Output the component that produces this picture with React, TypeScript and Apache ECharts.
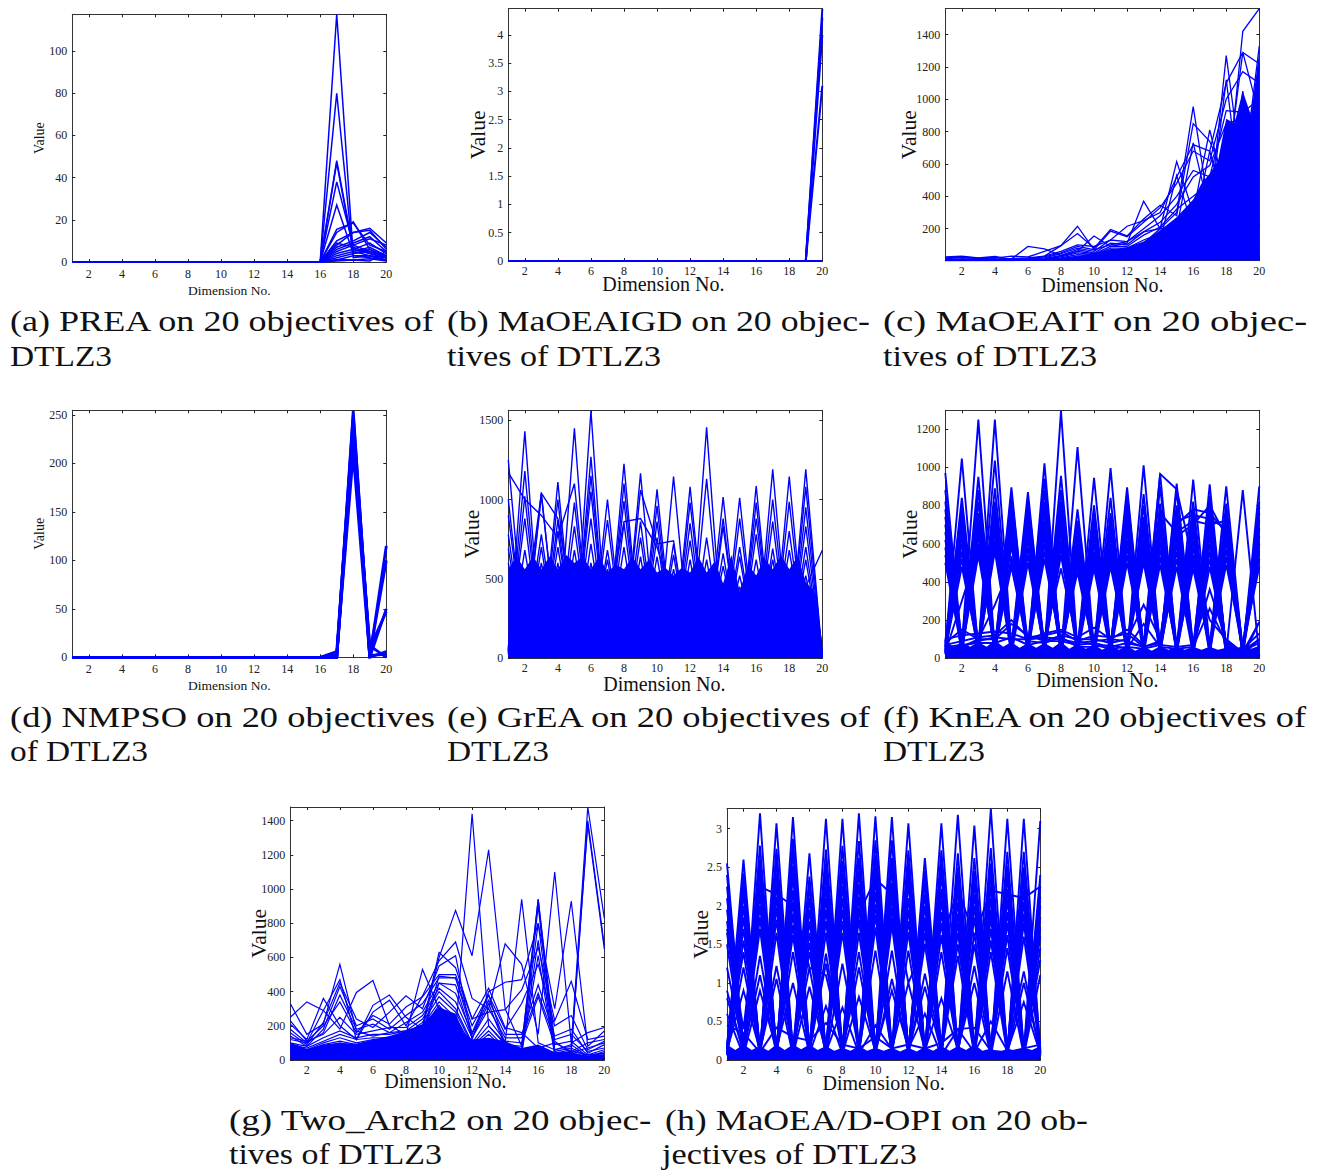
import React, { useEffect, useRef } from "react";
import * as echarts from "echarts";

const BLUE = "#0000ff";
const SERIF = '"Liberation Serif", serif';
const dimTicks = [2, 4, 6, 8, 10, 12, 14, 16, 18, 20];

// Panel a: values of dimensions 16..20 (dimensions 1..15 sit at zero)
const preaTail = [
  [0, 117.4, 3, 2, 1], [0, 80, 2, 3, 1], [0, 48, 6, 4, 2], [0, 47, 5, 3, 2], [0, 38, 8, 5, 3],
  [0, 27, 4, 6, 2], [0, 15.5, 18.5, 8, 5], [0, 14, 19, 6, 3], [0, 10, 14, 16, 9], [0, 8, 14, 15, 6],
  [0, 7, 10, 14, 7], [0, 6, 9, 12, 5], [0, 5, 8, 11, 8], [0, 4, 6, 9, 4], [0, 3, 5, 7, 3],
  [0, 2, 4, 5, 2], [0, 1, 3, 3, 1], [0, 1.2, 1, 1.5, 0.5], [0, 0.5, 1, 0.5, 5], [0, 9, 7, 4, 2],
];
// Panel b: values of dimension 19, 20
const igdTail = [[0, 4.46], [0, 4.3], [0, 4.0], [0, 3.1], [0, 0]];
// Panel d: values of dimensions 16..20
const nmpsoTail = [
  [0, 0, 254, 0, 115], [0, 0, 250, 3, 100], [0, 6, 240, 0, 50], [0, 0, 225, 10, 47],
  [0, 3, 210, 0, 6], [0, 0, 230, 12, 0], [0, 0, 245, 2, 3],
];

const itRows = [
  [25, 30, 20, 28, 10, 12, 30, 95, 215, 70, 100, 120, 180, 200, 615, 300, 810, 400, 1420, 1560],
  [20, 25, 18, 22, 12, 90, 75, 35, 60, 155, 90, 110, 370, 200, 300, 955, 300, 1270, 500, 1330],
  [15, 20, 15, 18, 30, 25, 60, 95, 170, 80, 195, 155, 260, 345, 280, 850, 740, 500, 1290, 900],
  [8, 12, 10, 12, 15, 20, 30, 60, 100, 90, 130, 215, 250, 300, 520, 720, 680, 1100, 1290, 1220],
  [6, 8, 8, 10, 10, 15, 25, 50, 90, 70, 185, 150, 240, 330, 480, 680, 620, 1000, 1170, 1100],
  [5, 7, 6, 8, 8, 12, 20, 45, 80, 60, 130, 120, 200, 280, 400, 560, 520, 930, 920, 1000],
  [4, 5, 5, 6, 6, 10, 15, 35, 70, 50, 110, 100, 180, 240, 350, 520, 590, 850, 880, 950],
  [3, 4, 4, 5, 5, 8, 12, 30, 60, 45, 90, 90, 160, 210, 320, 400, 480, 700, 800, 900],
  [3, 3, 3, 4, 4, 6, 10, 25, 50, 40, 80, 80, 130, 170, 250, 360, 400, 600, 700, 20],
  [3, 3, 3, 3, 3, 5, 8, 20, 40, 35, 70, 70, 110, 200, 200, 730, 300, 1120, 300, 1220],
  [3, 3, 3, 3, 3, 4, 7, 15, 30, 30, 60, 60, 100, 130, 530, 200, 680, 300, 1050, 200],
];
const itMass = [[1, 8], [7, 12], [8, 18], [9, 30], [10, 50], [11, 70], [12, 85], [13, 120], [14, 190], [15, 270], [16, 380], [16.5, 480], [17, 540], [17.5, 620], [18, 880], [18.5, 850], [19, 1050], [19.5, 900], [20, 1300]];

const greaRows = [
  [1250, 80, 1040, 60, 1450, 40, 1000, 30, 1165, 20, 1145, 30, 1455, 40, 1010, 30, 1190, 20, 1190, 5],
  [1170, 1000, 900, 760, 1100, 50, 870, 30, 1060, 720, 740, 40, 1130, 30, 880, 40, 1000, 30, 1080, 10],
  [1000, 60, 1030, 70, 980, 40, 680, 60, 860, 60, 720, 30, 760, 60, 700, 50, 860, 20, 950, 5],
  [900, 90, 780, 60, 830, 60, 620, 40, 760, 50, 650, 40, 620, 30, 640, 30, 690, 40, 830, 0],
  [780, 30, 700, 40, 680, 70, 560, 60, 640, 30, 560, 50, 540, 70, 520, 60, 620, 50, 700, 20],
  [690, 60, 600, 50, 560, 30, 500, 30, 520, 40, 500, 30, 480, 30, 450, 30, 540, 40, 620, 10],
  [600, 40, 520, 30, 500, 40, 450, 60, 460, 60, 450, 60, 430, 40, 400, 50, 460, 60, 520, 5],
  [40, 1430, 30, 1110, 20, 1560, 50, 1225, 40, 1065, 30, 1080, 40, 1015, 30, 1085, 20, 1145, 30, 10],
  [50, 1180, 40, 1000, 30, 1270, 30, 1100, 50, 960, 20, 980, 60, 880, 40, 980, 30, 985, 40, 5],
  [30, 1020, 60, 870, 40, 1150, 60, 990, 30, 860, 40, 850, 30, 830, 50, 880, 60, 800, 30, 15],
  [70, 880, 30, 800, 50, 1050, 40, 850, 60, 760, 50, 740, 40, 660, 30, 780, 40, 680, 50, 0],
  [40, 680, 50, 700, 60, 880, 30, 700, 40, 640, 30, 620, 50, 580, 60, 620, 30, 560, 20, 20],
  [60, 560, 40, 600, 30, 720, 50, 560, 30, 520, 40, 520, 30, 470, 40, 520, 50, 460, 40, 5],
  [20, 480, 60, 500, 50, 600, 40, 470, 50, 450, 60, 440, 60, 430, 30, 450, 60, 420, 50, 30],
  [300, 250, 1040, 880, 280, 200, 300, 860, 880, 700, 350, 200, 300, 250, 300, 250, 300, 350, 450, 680],
];
const greaMass = [[1, 560], [1.5, 640], [2, 560], [2.5, 640], [3, 560], [3.5, 640], [4, 560], [4.5, 650], [5, 600], [5.5, 640], [6, 560], [6.5, 640], [7, 540], [7.5, 590], [8, 560], [8.5, 640], [9, 560], [9.5, 620], [10, 540], [10.5, 570], [11, 520], [11.5, 570], [12, 540], [12.5, 640], [13, 540], [13.5, 610], [14, 470], [14.5, 650], [15, 420], [15.5, 590], [16, 520], [16.5, 630], [17, 560], [17.5, 650], [18, 560], [18.5, 640], [19, 480], [19.5, 420], [20, 100]];

const kneaRows = [
  [970, 60, 1250, 40, 895, 30, 1020, 20, 1105, 40, 995, 30, 1010, 50, 915, 40, 910, 30, 880, 10],
  [880, 40, 950, 60, 860, 70, 940, 50, 780, 60, 840, 20, 860, 60, 880, 60, 850, 40, 30, 190],
  [820, 90, 880, 30, 820, 50, 880, 40, 720, 30, 760, 50, 800, 30, 800, 40, 800, 50, 50, 130],
  [780, 30, 820, 50, 780, 30, 820, 70, 680, 60, 720, 30, 740, 50, 760, 30, 760, 60, 20, 100],
  [740, 70, 760, 30, 740, 60, 770, 30, 640, 40, 680, 60, 700, 30, 720, 50, 720, 30, 40, 80],
  [700, 20, 720, 60, 700, 20, 720, 50, 600, 70, 640, 40, 660, 60, 680, 20, 680, 40, 30, 60],
  [660, 50, 680, 20, 660, 50, 680, 30, 570, 30, 600, 70, 620, 40, 640, 60, 640, 70, 10, 40],
  [620, 80, 640, 70, 620, 70, 640, 60, 540, 50, 570, 20, 590, 20, 600, 30, 600, 20, 60, 30],
  [580, 30, 600, 40, 590, 40, 600, 20, 510, 20, 540, 50, 560, 70, 560, 40, 560, 50, 20, 20],
  [540, 60, 570, 30, 530, 30, 560, 40, 480, 60, 510, 30, 530, 30, 520, 60, 520, 30, 50, 10],
  [500, 40, 540, 50, 480, 60, 520, 70, 450, 40, 480, 60, 500, 50, 480, 20, 480, 60, 30, 30],
  [60, 1045, 40, 1250, 60, 870, 30, 1295, 40, 945, 50, 895, 30, 965, 40, 935, 60, 900, 30, 900],
  [40, 840, 60, 1035, 30, 830, 60, 955, 60, 800, 30, 860, 50, 900, 60, 820, 30, 810, 20, 820],
  [90, 800, 30, 890, 50, 800, 40, 880, 30, 760, 60, 820, 30, 810, 30, 780, 50, 780, 50, 790],
  [30, 760, 50, 820, 30, 770, 50, 820, 50, 720, 40, 780, 60, 770, 50, 740, 40, 750, 30, 760],
  [70, 720, 30, 780, 60, 740, 30, 780, 20, 680, 70, 740, 20, 730, 30, 700, 60, 720, 60, 720],
  [20, 680, 70, 740, 20, 700, 70, 740, 60, 640, 30, 700, 40, 690, 60, 660, 30, 690, 10, 680],
  [50, 640, 20, 700, 40, 660, 20, 700, 30, 600, 50, 660, 70, 650, 20, 620, 50, 650, 40, 640],
  [80, 600, 60, 660, 70, 620, 60, 660, 70, 560, 20, 620, 30, 610, 40, 580, 70, 610, 20, 600],
  [30, 560, 40, 620, 30, 580, 40, 620, 40, 530, 60, 580, 50, 570, 70, 540, 20, 570, 50, 560],
  [60, 520, 30, 590, 50, 540, 30, 580, 20, 500, 40, 540, 20, 530, 30, 500, 40, 530, 30, 520],
  [40, 480, 50, 560, 20, 500, 50, 540, 50, 470, 30, 500, 60, 490, 50, 470, 60, 490, 60, 480],
  [100, 120, 130, 140, 130, 100, 130, 150, 110, 160, 100, 150, 70, 965, 885, 500, 200, 100, 30, 50],
  [70, 90, 110, 120, 200, 110, 120, 140, 90, 120, 110, 130, 60, 760, 660, 720, 700, 720, 40, 100],
  [50, 60, 100, 100, 180, 120, 90, 120, 100, 100, 80, 100, 280, 100, 720, 750, 730, 680, 20, 60],
  [40, 60, 90, 110, 100, 100, 110, 100, 80, 90, 100, 90, 60, 90, 700, 780, 760, 660, 30, 40],
  [60, 70, 80, 80, 110, 70, 90, 90, 70, 80, 60, 80, 60, 80, 640, 700, 800, 640, 20, 30],
  [30, 300, 570, 590, 530, 100, 110, 470, 90, 70, 50, 60, 50, 70, 60, 70, 360, 90, 20, 20],
  [80, 150, 100, 280, 490, 90, 80, 110, 60, 60, 70, 50, 180, 60, 50, 60, 260, 80, 10, 190],
];
const kneaMass = [[1, 90], [1.5, 60], [2, 85], [2.5, 60], [3, 85], [3.5, 60], [4, 95], [4.5, 60], [5, 85], [5.5, 55], [6, 80], [6.5, 55], [7, 80], [7.5, 55], [8, 85], [8.5, 50], [9, 75], [9.5, 50], [10, 70], [10.5, 45], [11, 70], [11.5, 45], [12, 65], [12.5, 40], [13, 60], [13.5, 40], [14, 65], [14.5, 45], [15, 60], [15.5, 45], [16, 60], [16.5, 45], [17, 60], [17.5, 45], [18, 55], [18.5, 40], [19, 30], [19.5, 35], [20, 70]];

const archRows = [
  [330, 150, 210, 560, 170, 140, 160, 170, 200, 630, 540, 240, 420, 190, 160, 70, 100, 50, 30, 40],
  [250, 340, 290, 180, 395, 465, 200, 150, 530, 300, 150, 1440, 200, 100, 940, 100, 60, 80, 1480, 830],
  [210, 120, 360, 200, 120, 320, 380, 250, 180, 600, 875, 610, 1230, 300, 80, 940, 110, 40, 1400, 670],
  [180, 100, 290, 470, 120, 280, 350, 200, 375, 580, 690, 360, 300, 680, 560, 150, 1100, 100, 160, 190],
  [160, 90, 220, 450, 240, 190, 280, 375, 300, 550, 610, 120, 400, 455, 470, 800, 300, 930, 80, 170],
  [230, 110, 200, 340, 160, 260, 210, 310, 370, 500, 500, 240, 280, 295, 410, 660, 230, 460, 120, 140],
  [140, 80, 180, 430, 200, 240, 180, 260, 330, 480, 480, 200, 380, 180, 330, 560, 200, 260, 60, 110],
  [120, 100, 160, 380, 180, 210, 160, 220, 280, 450, 390, 150, 350, 150, 150, 440, 140, 180, 40, 90],
  [130, 110, 150, 250, 150, 170, 190, 190, 260, 420, 340, 130, 300, 130, 130, 390, 120, 150, 50, 70],
  [100, 80, 130, 170, 130, 150, 150, 170, 240, 400, 300, 100, 240, 110, 100, 370, 90, 110, 30, 60],
  [90, 70, 110, 150, 120, 130, 130, 150, 220, 370, 280, 90, 200, 90, 80, 940, 60, 90, 20, 50],
  [80, 60, 100, 130, 100, 120, 120, 130, 200, 340, 250, 80, 170, 70, 60, 800, 50, 70, 20, 40],
  [70, 50, 90, 110, 90, 110, 100, 120, 180, 320, 200, 70, 150, 60, 50, 900, 40, 60, 1380, 650],
  [60, 45, 80, 100, 80, 100, 90, 110, 160, 490, 480, 160, 380, 90, 45, 700, 35, 50, 100, 120],
  [55, 40, 75, 90, 70, 90, 85, 100, 150, 450, 440, 130, 330, 80, 40, 610, 30, 45, 70, 100],
];
const archMass = [[1, 100], [1.5, 85], [2, 65], [3, 90], [4, 100], [5, 95], [6, 120], [7, 140], [8, 170], [9, 210], [10, 310], [10.5, 290], [11, 270], [11.5, 160], [12, 120], [13, 130], [14, 110], [15, 70], [16, 90], [17, 45], [18, 45], [19, 25], [20, 35]];

const opiRows = [
  [2.55, 0.1, 3.2, 0.05, 3.15, 0.12, 3.13, 0.08, 3.2, 0.1, 3.15, 0.06, 2.62, 0.15, 3.18, 0.1, 3.26, 0.05, 3.13, 0.1],
  [2.4, 0.15, 2.78, 0.1, 2.87, 0.08, 2.73, 0.14, 2.84, 0.06, 2.85, 0.12, 2.45, 0.08, 2.68, 0.14, 2.75, 0.1, 2.7, 0.15],
  [2.25, 0.08, 2.6, 0.14, 2.7, 0.15, 2.55, 0.06, 2.62, 0.12, 2.62, 0.1, 2.3, 0.12, 2.5, 0.08, 2.55, 0.12, 2.5, 0.08],
  [2.1, 0.2, 2.45, 0.06, 2.52, 0.1, 2.4, 0.12, 2.45, 0.15, 2.47, 0.15, 2.15, 0.06, 2.38, 0.12, 2.4, 0.06, 2.35, 0.12],
  [1.95, 0.12, 2.3, 0.12, 2.38, 0.05, 2.25, 0.1, 2.28, 0.08, 2.3, 0.08, 2.0, 0.15, 2.2, 0.1, 2.25, 0.14, 2.2, 0.06],
  [1.8, 0.06, 2.15, 0.08, 2.2, 0.12, 2.1, 0.15, 2.12, 0.1, 2.12, 0.12, 1.85, 0.1, 2.05, 0.06, 2.1, 0.08, 2.05, 0.1],
  [1.65, 0.18, 2.0, 0.15, 2.05, 0.08, 1.95, 0.08, 1.98, 0.12, 1.98, 0.06, 1.78, 0.06, 1.9, 0.15, 1.95, 0.12, 1.9, 0.14],
  [1.5, 0.1, 1.85, 0.1, 1.9, 0.14, 1.8, 0.12, 1.82, 0.06, 1.85, 0.14, 1.65, 0.12, 1.78, 0.08, 1.85, 0.06, 1.78, 0.08],
  [1.2, 0.14, 1.7, 0.06, 1.75, 0.06, 1.65, 0.06, 1.65, 0.14, 1.75, 0.1, 1.5, 0.08, 1.65, 0.12, 1.7, 0.1, 1.6, 0.12],
  [0.9, 0.08, 1.35, 0.12, 1.62, 0.1, 1.38, 0.14, 1.4, 0.1, 1.42, 0.08, 1.12, 0.14, 1.5, 0.14, 1.55, 0.14, 1.15, 0.06],
  [0.8, 0.12, 1.1, 0.08, 1.4, 0.12, 1.25, 0.1, 1.2, 0.08, 1.05, 0.12, 0.95, 0.1, 1.35, 0.06, 1.4, 0.08, 1.0, 0.1],
  [0.6, 0.06, 0.9, 0.14, 1.0, 0.08, 0.7, 0.08, 0.82, 0.12, 0.9, 0.15, 0.6, 0.06, 0.4, 0.1, 0.5, 0.12, 0.75, 0.08],
  [0.1, 2.6, 0.08, 3.07, 0.1, 2.68, 0.06, 3.13, 0.1, 3.16, 0.12, 3.07, 0.08, 3.07, 0.1, 3.04, 0.06, 3.13, 0.1, 3.1],
  [0.15, 2.42, 0.12, 2.74, 0.06, 2.38, 0.12, 2.78, 0.06, 2.85, 0.08, 2.72, 0.12, 2.72, 0.14, 2.62, 0.12, 2.7, 0.06, 2.4],
  [0.06, 2.28, 0.1, 2.58, 0.12, 2.25, 0.08, 2.58, 0.14, 2.66, 0.14, 2.55, 0.06, 2.55, 0.06, 2.45, 0.08, 2.52, 0.14, 2.25],
  [0.2, 2.15, 0.14, 2.42, 0.08, 2.1, 0.14, 2.42, 0.08, 2.5, 0.06, 2.4, 0.14, 2.4, 0.1, 2.3, 0.14, 2.38, 0.08, 2.12],
  [0.12, 2.0, 0.06, 2.28, 0.14, 1.95, 0.06, 2.26, 0.12, 2.34, 0.1, 2.28, 0.1, 2.22, 0.12, 2.15, 0.1, 2.22, 0.12, 2.0],
  [0.08, 1.85, 0.12, 2.12, 0.1, 1.8, 0.1, 2.1, 0.06, 2.18, 0.14, 2.1, 0.08, 2.08, 0.08, 2.0, 0.06, 2.08, 0.1, 1.85],
  [0.18, 1.7, 0.08, 1.98, 0.06, 1.65, 0.12, 1.95, 0.1, 2.02, 0.08, 1.95, 0.12, 1.92, 0.14, 1.85, 0.12, 1.92, 0.06, 1.72],
  [0.1, 1.55, 0.14, 1.82, 0.12, 1.52, 0.08, 1.8, 0.14, 1.88, 0.12, 1.8, 0.14, 1.78, 0.06, 1.65, 0.08, 1.78, 0.14, 1.6],
  [0.14, 1.4, 0.06, 1.65, 0.08, 1.4, 0.14, 1.65, 0.06, 1.72, 0.06, 1.66, 0.06, 1.62, 0.1, 1.5, 0.14, 1.62, 0.08, 1.45],
  [0.08, 1.2, 0.1, 1.22, 0.14, 1.2, 0.06, 1.25, 0.12, 1.42, 0.1, 1.42, 0.1, 1.4, 0.12, 1.22, 0.1, 1.45, 0.12, 1.3],
  [0.12, 0.9, 0.12, 1.05, 0.06, 0.95, 0.1, 0.68, 0.08, 0.45, 0.14, 1.0, 0.12, 0.8, 0.14, 1.0, 0.06, 1.15, 0.06, 1.1],
  [1.7, 0.4, 2.25, 2.15, 2.0, 1.2, 1.1, 0.2, 1.9, 2.35, 2.15, 1.0, 1.5, 1.52, 2.22, 1.6, 2.2, 2.15, 2.1, 2.25],
  [0.45, 0.35, 0.1, 0.42, 0.3, 0.25, 0.48, 0.2, 0.15, 0.3, 0.15, 0.2, 0.15, 0.22, 0.4, 0.42, 0.12, 0.1, 0.15, 0.2],
];
const opiMass = [[1, 0.2], [1.5, 0.13], [2, 0.2], [2.5, 0.13], [3, 0.18], [3.5, 0.12], [4, 0.2], [4.5, 0.13], [5, 0.2], [5.5, 0.14], [6, 0.2], [6.5, 0.13], [7, 0.18], [7.5, 0.12], [8, 0.16], [8.5, 0.12], [9, 0.18], [9.5, 0.12], [10, 0.16], [10.5, 0.12], [11, 0.16], [11.5, 0.11], [12, 0.16], [12.5, 0.11], [13, 0.17], [13.5, 0.12], [14, 0.18], [14.5, 0.12], [15, 0.18], [15.5, 0.13], [16, 0.2], [16.5, 0.12], [17, 0.15], [17.5, 0.1], [18, 0.15], [18.5, 0.12], [19, 0.16], [19.5, 0.13], [20, 0.18]];

const padFront = (tail: number[]) => [...new Array(20 - tail.length).fill(0), ...tail];

const panels = [
  { rows: preaTail.map(padFront), mass: null, width: 1.5, clip: false, box: [72.3, 14.3, 314, 247.7], yMin: 0, yMax: 117.4, yTicks: [0, 20, 40, 60, 80, 100], big: false, nameGap: 21, xMargin: 6, vGap: 26, shift: 0 },
  { rows: igdTail.map(padFront), mass: null, width: 2, clip: false, box: [508.3, 8.7, 314, 252.3], yMin: 0, yMax: 4.465, yTicks: [0, 0.5, 1, 1.5, 2, 2.5, 3, 3.5, 4], big: true, nameGap: 13, xMargin: 4, vGap: 19, shift: 2 },
  { rows: itRows, mass: itMass, width: 1.3, clip: true, box: [945.3, 8.7, 314, 252], yMin: 2, yMax: 1560, yTicks: [200, 400, 600, 800, 1000, 1200, 1400], big: true, nameGap: 14, xMargin: 4, vGap: 25, shift: 0 },
  { rows: nmpsoTail.map(padFront), mass: null, width: 2.8, clip: false, box: [72.3, 410.3, 314, 247], yMin: 0, yMax: 254.9, yTicks: [0, 50, 100, 150, 200, 250], big: false, nameGap: 21, xMargin: 6, vGap: 26, shift: 0 },
  { rows: greaRows, mass: greaMass, width: 1.4, clip: true, box: [508.3, 410.3, 314, 247.7], yMin: 0, yMax: 1563, yTicks: [0, 500, 1000, 1500], big: true, nameGap: 16, xMargin: 4, vGap: 25, shift: 1 },
  { rows: kneaRows, mass: kneaMass, width: 1.9, clip: true, box: [945.3, 410.3, 314, 248], yMin: 0, yMax: 1298, yTicks: [0, 200, 400, 600, 800, 1000, 1200], big: true, nameGap: 12, xMargin: 4, vGap: 24, shift: 5 },
  { rows: archRows, mass: archMass, width: 1.2, clip: true, box: [290.3, 807, 314, 253], yMin: 0, yMax: 1480, yTicks: [0, 200, 400, 600, 800, 1000, 1200, 1400], big: true, nameGap: 11, xMargin: 4, vGap: 20, shift: 2 },
  { rows: opiRows, mass: opiMass, width: 1.9, clip: true, box: [727, 808.7, 313.3, 251.3], yMin: 0, yMax: 3.26, yTicks: [0, 0.5, 1, 1.5, 2, 2.5, 3], big: true, nameGap: 13, xMargin: 4, vGap: 15, shift: 0 },
];

const captions = [
  { text: "(a) PREA on 20 objectives of", x: 10, y: 321, w: 426 },
  { text: "DTLZ3", x: 10, y: 356, w: 102 },
  { text: "(b) MaOEAIGD on 20 objec-", x: 447, y: 321, w: 423 },
  { text: "tives of DTLZ3", x: 447, y: 356, w: 214 },
  { text: "(c) MaOEAIT on 20 objec-", x: 883, y: 321, w: 425 },
  { text: "tives of DTLZ3", x: 883, y: 356, w: 214 },
  { text: "(d) NMPSO on 20 objectives", x: 10, y: 717, w: 425 },
  { text: "of DTLZ3", x: 10, y: 751, w: 138 },
  { text: "(e) GrEA on 20 objectives of", x: 447, y: 717, w: 425 },
  { text: "DTLZ3", x: 447, y: 751, w: 102 },
  { text: "(f) KnEA on 20 objectives of", x: 883, y: 717, w: 425 },
  { text: "DTLZ3", x: 883, y: 751, w: 102 },
  { text: "(g) Two_Arch2 on 20 objec-", x: 229, y: 1120, w: 423 },
  { text: "tives of DTLZ3", x: 229, y: 1154, w: 213 },
  { text: "(h) MaOEA/D-OPI on 20 ob-", x: 665, y: 1120, w: 423 },
  { text: "jectives of DTLZ3", x: 662, y: 1154, w: 255 },
];

function measure(text: string, font: string) {
  const ctx = document.createElement("canvas").getContext("2d")!;
  ctx.font = font;
  return ctx.measureText(text).width;
}

const plain = (v: number) => String(v);

function buildOption() {
  const grid: any[] = [], xAxis: any[] = [], yAxis: any[] = [], series: any[] = [];
  const line = { lineStyle: { color: "#333", width: 1 } };
  panels.forEach((p, i) => {
    const [left, top, width, height] = p.box;
    grid.push({ left, top, width, height, containLabel: false });
    const tick = (vals: number[]) => ({ show: true, inside: true, length: 3, customValues: vals, lineStyle: { color: "#222", width: 1 } });
    const base = { type: "value", gridIndex: i, splitLine: { show: false } };
    xAxis.push({
      ...base, position: "bottom", min: 1, max: 20, axisLine: { show: true, onZero: false, ...line },
      axisTick: tick(dimTicks),
      axisLabel: { customValues: dimTicks, formatter: plain, fontFamily: SERIF, fontSize: 12, color: "#222", margin: p.xMargin, hideOverlap: false, showMinLabel: true, showMaxLabel: true },
      name: "Dimension No.", nameLocation: "middle", nameGap: p.nameGap, nameMoveOverlap: false,
      nameTextStyle: { fontFamily: SERIF, fontSize: p.big ? 20 : 13.5, color: "#111", padding: [0, p.shift * 2, 0, 0] },
    });
    xAxis.push({ ...base, position: "top", min: 1, max: 20, axisLine: { show: true, onZero: false, ...line }, axisTick: tick(dimTicks), axisLabel: { show: false } });
    yAxis.push({
      ...base, position: "left", min: p.yMin, max: p.yMax, axisLine: { show: true, onZero: false, ...line },
      axisTick: tick(p.yTicks),
      axisLabel: { customValues: p.yTicks, formatter: plain, fontFamily: SERIF, fontSize: 12, color: "#222", margin: 5, showMinLabel: true, showMaxLabel: true },
      name: "Value", nameLocation: "middle", nameRotate: 90, nameGap: p.vGap, nameMoveOverlap: false,
      nameTextStyle: { fontFamily: SERIF, fontSize: p.big ? 21.5 : 14, color: "#111" },
    });
    yAxis.push({ ...base, position: "right", min: p.yMin, max: p.yMax, axisLine: { show: true, onZero: false, ...line }, axisTick: tick(p.yTicks), axisLabel: { show: false } });
    const xi = i * 2, yi = i * 2;
    if (p.mass) {
      series.push({ type: "line", xAxisIndex: xi, yAxisIndex: yi, data: p.mass, showSymbol: false, silent: true, lineStyle: { width: 0, color: BLUE }, areaStyle: { color: BLUE, opacity: 1 } });
    }
    p.rows.forEach((row) => {
      series.push({ type: "line", xAxisIndex: xi, yAxisIndex: yi, clip: p.clip, data: row.map((v, k) => [k + 1, v]), showSymbol: false, silent: true, lineStyle: { width: p.width, color: BLUE, join: "miter" } });
    });
  });
  const font = `30px ${SERIF}`;
  const graphic = captions.map((c) => ({
    type: "text", x: c.x, y: c.y, scaleX: c.w / measure(c.text, font),
    style: { text: c.text, fontFamily: SERIF, fontSize: 30, fill: "#111", textVerticalAlign: "middle", textAlign: "left" },
  }));
  return { animation: false, backgroundColor: "#fff", grid, xAxis, yAxis, series, graphic };
}

export default function App() {
  const ref = useRef<HTMLDivElement>(null);
  useEffect(() => {
    const chart = echarts.init(ref.current!, undefined, { renderer: "svg" });
    chart.setOption(buildOption() as any);
    return () => chart.dispose();
  }, []);
  return <div ref={ref} style={{ position: "absolute", left: 0, top: 0, width: 1322, height: 1170 }} />;
}
